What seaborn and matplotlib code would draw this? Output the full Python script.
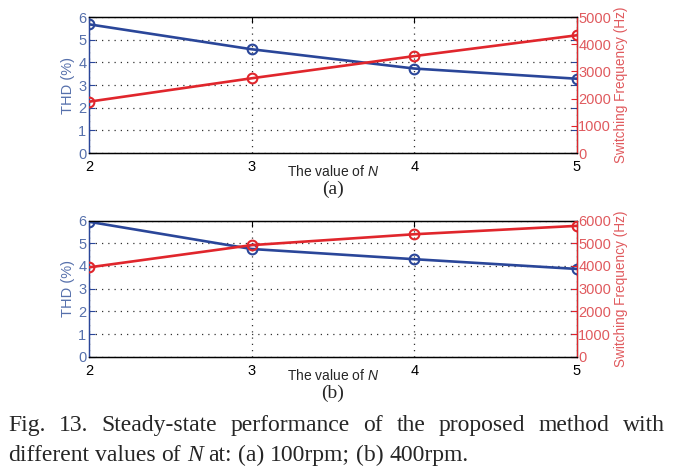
import numpy as np
import pandas as pd
import matplotlib
matplotlib.use("Agg")
import matplotlib.pyplot as plt
import seaborn as sns

# ---- data ----
n_values = [2, 3, 4, 5]
thd_100rpm = [5.68, 4.58, 3.73, 3.28]          # %
fsw_100rpm = [1890, 2750, 3565, 4330]          # Hz
thd_400rpm = [5.95, 4.75, 4.30, 3.87]          # %
fsw_400rpm = [3940, 4920, 5400, 5770]          # Hz
thd_ticks = [0, 1, 2, 3, 4, 5, 6]
fsw_ticks_a = [0, 1000, 2000, 3000, 4000, 5000]
fsw_ticks_b = [0, 1000, 2000, 3000, 4000, 5000, 6000]
panel_labels = ["(a)", "(b)"]
caption_1 = "Fig. 13. Steady-state performance of the proposed method with"
caption_2 = "different values of |N| at: (a) 100rpm; (b) 400rpm."

BLUE = "#2a4699"
RED = "#e0262c"
BLUE_TXT = "#5670ac"
RED_TXT = "#e05a5e"

sns.set_style("white")
plt.rcParams["font.family"] = ["Liberation Sans", "DejaVu Sans"]
plt.rcParams["mathtext.fontset"] = "custom"
plt.rcParams["mathtext.it"] = "Liberation Sans:italic"
plt.rcParams["mathtext.rm"] = "Liberation Sans"

fig = plt.figure(figsize=(6.85, 4.74), dpi=100)


def panel(rect, thd, fsw, fsw_ticks, label):
    df = pd.DataFrame({"N": n_values, "THD": thd, "Fsw": fsw})
    ax = fig.add_axes(rect)
    ax2 = ax.twinx()

    sns.lineplot(data=df, x="N", y="THD", ax=ax, color=BLUE, lw=1.9,
                 marker="o", markersize=7, markerfacecolor="none",
                 markeredgecolor=BLUE, markeredgewidth=1.5, zorder=3)
    sns.lineplot(data=df, x="N", y="Fsw", ax=ax2, color=RED, lw=1.9,
                 marker="o", markersize=7, markerfacecolor="none",
                 markeredgecolor=RED, markeredgewidth=1.5, zorder=3)

    ax.set_xlim(2, 5)
    ax.set_ylim(0, 6)
    ax2.set_ylim(0, fsw_ticks[-1])
    ax.set_xticks(n_values)
    ax.set_yticks(thd_ticks)
    ax2.set_yticks(fsw_ticks)

    ax.grid(True, linestyle=(0, (1, 4)), color="#333333", lw=0.9)
    ax.tick_params(axis="x", direction="in", length=4, labelsize=10.5,
                   colors="black", pad=5, top=True)
    ax.tick_params(axis="y", direction="in", length=4, labelsize=10.5,
                   colors=BLUE, labelcolor=BLUE_TXT, pad=2, right=True)
    ax2.tick_params(axis="y", direction="in", length=4, labelsize=10.5,
                    colors=RED, labelcolor=RED_TXT, pad=1)

    for a in (ax, ax2):
        for s in a.spines.values():
            s.set_color("black")
            s.set_linewidth(0.9)
    ax.spines["left"].set_color(BLUE)
    ax2.spines["left"].set_color(BLUE)
    ax2.spines["right"].set_color(RED)

    ax.set_ylabel("THD (%)", color=BLUE_TXT, fontsize=10.5, labelpad=2)
    ax2.set_ylabel("Switching Frequency (Hz)", color=RED_TXT, fontsize=9.8,
                   labelpad=2)
    ax.set_xlabel("The value of $\\mathit{N}$", fontsize=10, labelpad=-7)
    ax.text(0.5, -0.27, label, transform=ax.transAxes, ha="center",
            va="center", fontsize=14, family="Liberation Serif")
    return ax


panel([0.130, 0.677, 0.712, 0.287], thd_100rpm, fsw_100rpm, fsw_ticks_a,
      panel_labels[0])
panel([0.130, 0.2475, 0.712, 0.287], thd_400rpm, fsw_400rpm, fsw_ticks_b,
      panel_labels[1])


# caption: words laid out one by one so the first line can be justified
renderer = fig.canvas.get_renderer()
FIG_W = fig.get_figwidth() * fig.dpi


def caption_line(line, y, x0, x1=None, size=17):
    words = []
    for w in line.split(" "):
        italic = w.startswith("|")
        w = w.strip("|")
        t = fig.text(0, y, w, fontsize=size, family="Liberation Serif",
                     style="italic" if italic else "normal",
                     ha="left", va="center")
        words.append(t)
    widths = [t.get_window_extent(renderer).width for t in words]
    sp = fig.text(0, 0, "a a", fontsize=size, family="Liberation Serif")
    sa = fig.text(0, 0, "aa", fontsize=size, family="Liberation Serif")
    space = sp.get_window_extent(renderer).width - sa.get_window_extent(renderer).width
    sp.remove()
    sa.remove()
    if x1 is not None:
        space = (x1 - x0 - sum(widths)) / (len(words) - 1)
    x = x0
    for t, w in zip(words, widths):
        t.set_x(x / FIG_W)
        x += w + space


caption_line(caption_1, 0.103, 8, 665)
caption_line(caption_2, 0.040, 8)

fig.savefig("out.png", dpi=100)
